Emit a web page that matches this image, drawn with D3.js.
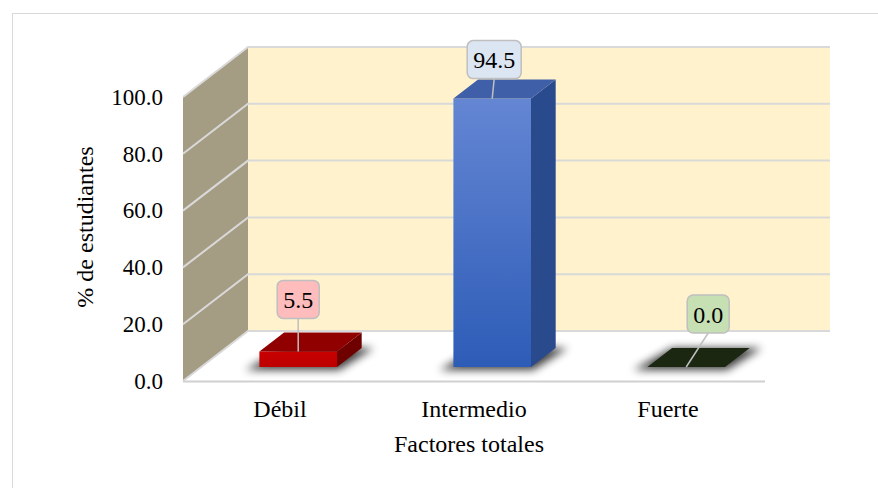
<!DOCTYPE html>
<html>
<head>
<meta charset="utf-8">
<script src="https://cdn.jsdelivr.net/npm/d3@7"></script>
<style>
  body { margin: 0; background: #fff; }
  svg { display: block; }
  svg text { font-family: "Liberation Serif", "Times New Roman", serif; }
</style>
</head>
<body>
<div id="chart"></div>
<script>
// data
var categories = ["Débil", "Intermedio", "Fuerte"];
var values = [5.5, 94.5, 0.0];
var yTicks = [0, 20, 40, 60, 80, 100];
var xTitle = "Factores totales";
var yTitle = "% de estudiantes";

var W = 878, H = 488;
var depthX = 65, depthY = -50;     // oblique projection of the floor depth
var barT0 = 0.28, barT1 = 0.66;    // bar front / back position in depth
var labelOffsets = [[0, -52], [2, -39], [22, -53]];  // callout box centre vs bar top front centre

var faceColors = [
  { front: ["#c80000", "#bd0000"], top: "#900000", side: "#6e0000" },
  { front: ["#6486d3", "#2d5cb7"], top: "#3f5fa8", side: "#2a4a8e" },
  { front: ["#1c2712", "#1c2712"], top: "#1c2712", side: "#141c0c" }
];
var boxFills = ["#ffbcbc", "#dce6f2", "#c6e0b4"];
var serif = "'Liberation Serif', 'Times New Roman', serif";

var svg = d3.select("#chart").append("svg")
    .attr("width", W)
    .attr("height", H);

var defs = svg.append("defs");
defs.append("filter").attr("id", "blur")
    .attr("x", "-30%").attr("y", "-60%").attr("width", "160%").attr("height", "220%")
  .append("feGaussianBlur").attr("stdDeviation", 4);

faceColors.forEach(function (c, i) {
  var g = defs.append("linearGradient").attr("id", "fg" + i)
      .attr("x1", 0).attr("y1", 0).attr("x2", 0).attr("y2", 1);
  g.append("stop").attr("offset", "0%").attr("stop-color", c.front[0]);
  g.append("stop").attr("offset", "100%").attr("stop-color", c.front[1]);
});

// outer chart border
svg.append("rect")
    .attr("x", 12.5).attr("y", 13.5)
    .attr("width", W).attr("height", H)
    .attr("fill", "#fff")
    .attr("stroke", "#d9d9d9");

var x = d3.scaleBand().domain(categories).range([183, 765]).padding(0);
var y = d3.scaleLinear().domain([0, 100]).range([381, 97]);

var x0 = x.range()[0], x1 = x.range()[1];
function P(px, py, t) { return [px + t * depthX, py + t * depthY]; }
function poly(pts) { return pts.map(function (p) { return p.join(","); }).join(" "); }

// floor
svg.append("polygon")
    .attr("points", poly([P(x0, y(0), 0), P(x1, y(0), 0), P(x1, y(0), 1), P(x0, y(0), 1)]))
    .attr("fill", "#fff");

// back wall
svg.append("polygon")
    .attr("points", poly([P(x0, y(0), 1), P(x1, y(0), 1), P(x1, y(100), 1), P(x0, y(100), 1)]))
    .attr("fill", "#fff2cc");

// side wall
svg.append("polygon")
    .attr("points", poly([P(x0, y(0), 0), P(x0, y(100), 0), P(x0, y(100), 1), P(x0, y(0), 1)]))
    .attr("fill", "#a59c84");

// gridlines on both walls
var grid = svg.append("g").attr("fill", "none").attr("stroke", "#d9d9d9").attr("stroke-width", 2);
yTicks.forEach(function (v) {
  grid.append("polyline")
      .attr("points", poly([P(x0, y(v), 0), P(x0, y(v), 1), P(x1, y(v), 1)]));
});

// floor front edge
svg.append("line")
    .attr("x1", x0).attr("x2", x1)
    .attr("y1", y(0) + 0.5).attr("y2", y(0) + 0.5)
    .attr("stroke", "#d0d0d0").attr("stroke-width", 2);

var bw = x.bandwidth() * 0.4;

var bars = svg.selectAll("g.bar")
    .data(values)
  .enter().append("g")
    .attr("class", "bar");

bars.each(function (v, i) {
  var g = d3.select(this);
  var c = faceColors[i];
  var xl = x(categories[i]) + (x.bandwidth() - bw) / 2;
  var xr = xl + bw;
  var yb = y(0), yt = y(v);

  // soft shadow under the bar
  g.append("polygon")
      .attr("points", poly([P(xl - 14, yb + 3, barT0), P(xr + 2, yb + 3, barT0),
                            P(xr + 12, yb, barT1), P(xl, yb, barT1)]))
      .attr("fill", "#000").attr("opacity", 0.75)
      .attr("filter", "url(#blur)");

  if (v > 0) {
    g.append("polygon")
        .attr("points", poly([P(xl, yb, barT0), P(xr, yb, barT0), P(xr, yt, barT0), P(xl, yt, barT0)]))
        .attr("fill", "url(#fg" + i + ")");
    g.append("polygon")
        .attr("points", poly([P(xr, yb, barT0), P(xr, yb, barT1), P(xr, yt, barT1), P(xr, yt, barT0)]))
        .attr("fill", c.side);
  }
  g.append("polygon")
      .attr("points", poly([P(xl, yt, barT0), P(xr, yt, barT0), P(xr, yt, barT1), P(xl, yt, barT1)]))
      .attr("fill", c.top);
});

// data callouts
bars.each(function (v, i) {
  var g = d3.select(this);
  var a = P(x(categories[i]) + x.bandwidth() / 2, y(v), barT0);
  var cx = a[0] + labelOffsets[i][0], cy = a[1] + labelOffsets[i][1];
  var txt = d3.format(".1f")(v);
  var t = g.append("text")
      .attr("x", cx).attr("y", cy + 8.5)
      .attr("text-anchor", "middle")
      .style("font-family", serif)
      .style("font-size", "24px")
      .text(txt);
  var tw = t.node().getComputedTextLength();
  var bwid = tw + 12, bh = 38;
  g.insert("line", "text")
      .attr("x1", cx).attr("y1", cy + bh / 2)
      .attr("x2", a[0]).attr("y2", a[1])
      .attr("stroke", "#bfbfbf").attr("stroke-width", 1.5);
  g.insert("rect", "text")
      .attr("x", cx - bwid / 2).attr("y", cy - bh / 2)
      .attr("width", bwid).attr("height", bh)
      .attr("rx", 6)
      .attr("fill", boxFills[i])
      .attr("stroke", "#bfbfbf").attr("stroke-width", 1.5);
});

// y axis labels (front edge of the side wall)
svg.append("g")
    .attr("transform", "translate(172,0)")
    .call(d3.axisLeft(y).tickValues(yTicks).tickSize(0).tickPadding(9).tickFormat(d3.format(".1f")))
    .call(function (g) { g.select(".domain").remove(); })
    .selectAll("text")
    .attr("fill", "#000")
    .style("font-family", serif)
    .style("font-size", "23px");

// x axis labels
svg.append("g")
    .attr("transform", "translate(0," + y(0) + ")")
    .call(d3.axisBottom(x).tickSize(0).tickPadding(19))
    .call(function (g) { g.select(".domain").remove(); })
    .selectAll("text")
    .attr("fill", "#000")
    .style("font-family", serif)
    .style("font-size", "24px");

svg.append("text")
    .attr("x", 469).attr("y", 452)
    .attr("text-anchor", "middle")
    .style("font-family", serif)
    .style("font-size", "24px")
    .text(xTitle);

svg.append("text")
    .attr("transform", "translate(93,227) rotate(-90)")
    .attr("text-anchor", "middle")
    .style("font-family", serif)
    .style("font-size", "24px")
    .text(yTitle);
</script>
</body>
</html>
